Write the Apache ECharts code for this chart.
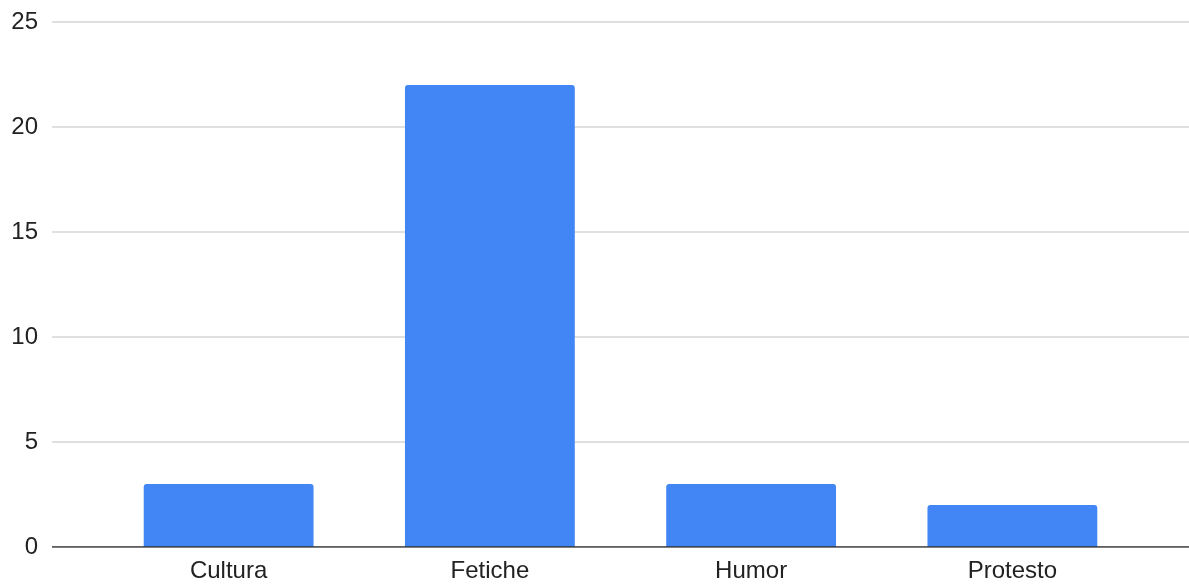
<!DOCTYPE html>
<html>
<head>
<meta charset="utf-8">
<script src="https://cdn.jsdelivr.net/npm/echarts@6/dist/echarts.min.js"></script>
<style>
html,body{margin:0;padding:0;background:#fff;}
#chart{width:1189px;height:587px;}
</style>
</head>
<body>
<div id="chart"></div>
<script>
var categories = ['Cultura', 'Fetiche', 'Humor', 'Protesto'];
var values = [3, 22, 3, 2];
var yTicks = [0, 5, 10, 15, 20, 25];

var chart = echarts.init(document.getElementById('chart'));
var font = 'Liberation Sans, Arial, sans-serif';
chart.setOption({
  animation: false,
  grid: [
    { left: 52, right: 0, top: 22, bottom: 40 },
    { left: 98, right: 46, top: 22, bottom: 40 }
  ],
  xAxis: [
    { type: 'value', gridIndex: 0, min: 0, max: 1, show: false },
    {
      type: 'category', gridIndex: 1, data: categories,
      axisLine: { show: false }, axisTick: { show: false },
      axisLabel: { color: '#222', fontSize: 24, fontFamily: font, margin: 12 }
    }
  ],
  yAxis: [
    {
      type: 'value', gridIndex: 0, min: yTicks[0], max: yTicks[yTicks.length - 1], interval: 5,
      axisLine: { show: false }, axisTick: { show: false },
      axisLabel: { color: '#222', fontSize: 24, fontFamily: font, margin: 14 },
      splitLine: { lineStyle: { color: '#d4d4d4', width: 1.5 } }
    },
    {
      type: 'value', gridIndex: 1, min: 0, max: 25, interval: 5, show: false,
      splitLine: { show: false }
    }
  ],
  series: [
    {
      type: 'line', xAxisIndex: 0, yAxisIndex: 0,
      data: [[0, 0], [1, 0]], symbol: 'none', silent: true,
      lineStyle: { color: '#333', width: 1.5 }, z: 5
    },
    {
      type: 'bar', xAxisIndex: 1, yAxisIndex: 1, data: values,
      barCategoryGap: '35%',
      itemStyle: { color: '#4285f4', borderRadius: [3, 3, 0, 0] }
    }
  ]
});
</script>
</body>
</html>
